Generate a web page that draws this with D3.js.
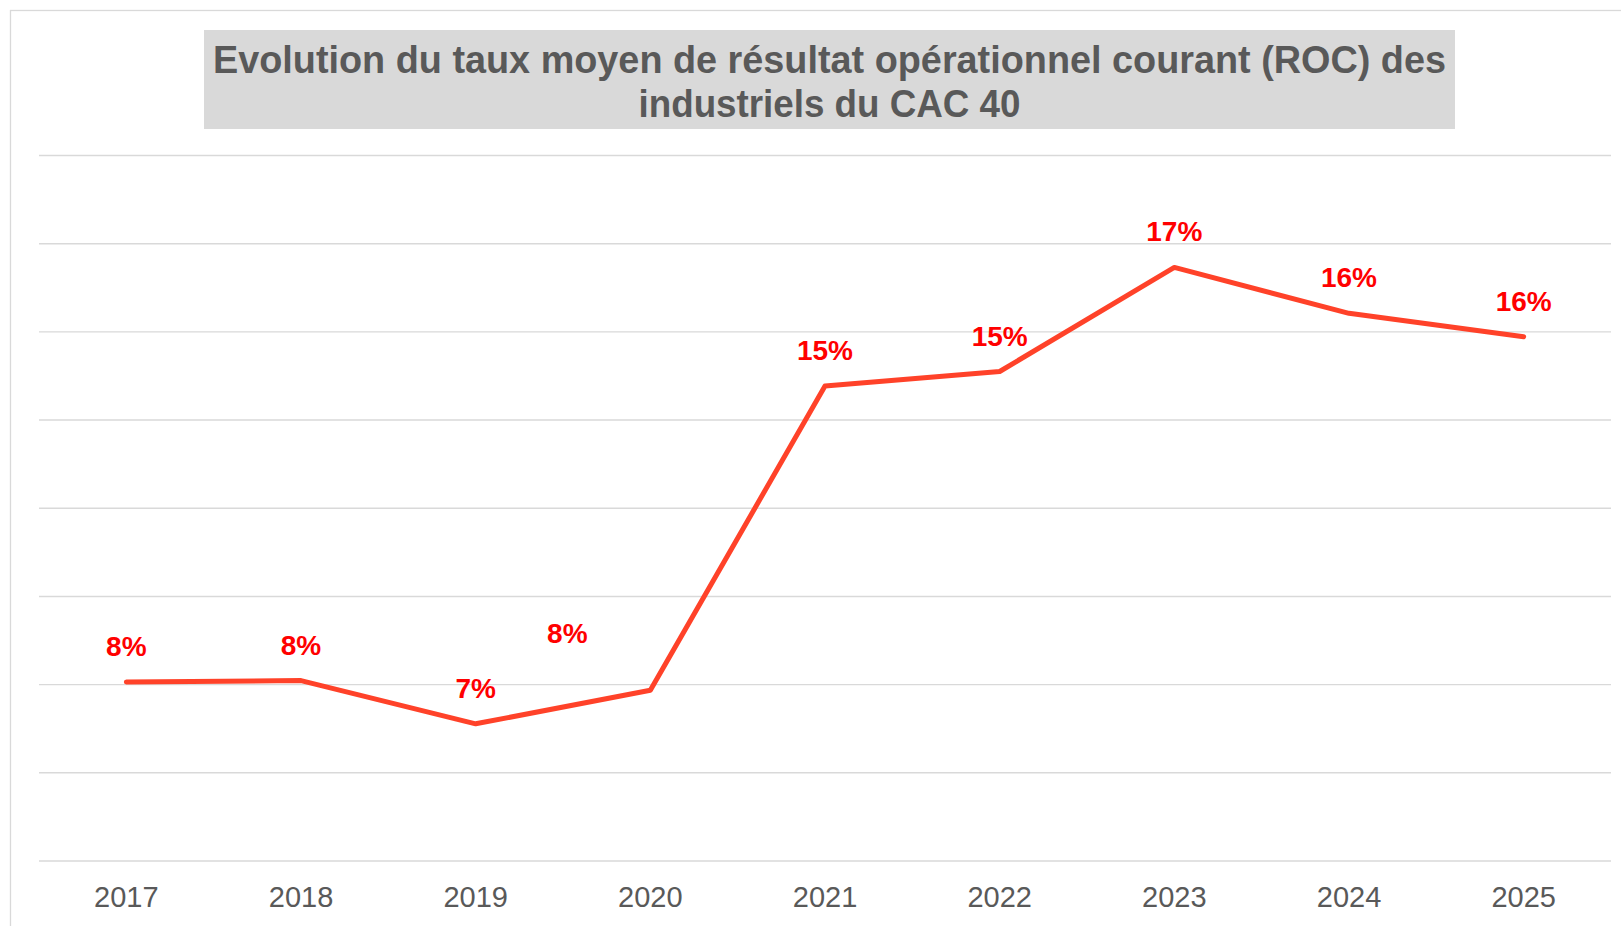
<!DOCTYPE html>
<html>
<head>
<meta charset="utf-8">
<script src="https://cdn.jsdelivr.net/npm/d3@7"></script>
<style>
  html, body { margin: 0; padding: 0; background: #fff; }
  svg { display: block; }
</style>
</head>
<body>
<div id="chart"></div>
<script>
var years = ["2017", "2018", "2019", "2020", "2021", "2022", "2023", "2024", "2025"]
var rocRate = [8.05, 8.08, 7.1, 7.86, 14.76, 15.09, 17.45, 16.41, 15.88]
var yTicks = [4, 6, 8, 10, 12, 14, 16, 18, 20]
var titleLines = [
  "Evolution du taux moyen de résultat opérationnel courant (ROC) des",
  "industriels du CAC 40"
]

var width = 1621, height = 926
var plot = { left: 39, right: 1611, top: 155, bottom: 860.5 }

var svg = d3.select("#chart").append("svg")
  .attr("width", width)
  .attr("height", height)

// chart frame, runs off the right and bottom of the picture
svg.append("rect")
  .attr("x", 10.5).attr("y", 10.5)
  .attr("width", 1700).attr("height", 1000)
  .attr("fill", "#fff")
  .attr("stroke", "#d9d9d9")
  .attr("stroke-width", 1.3)

var x = d3.scaleBand().domain(years).range([plot.left, plot.right]).padding(0)
var y = d3.scaleLinear().domain([4, 20]).range([plot.bottom, plot.top])

// horizontal gridlines, no tick labels
svg.append("g")
  .attr("transform", "translate(" + plot.left + ",0)")
  .call(d3.axisLeft(y).tickValues(yTicks).tickSize(-(plot.right - plot.left)).tickFormat(""))
  .call(function(g) {
    g.select(".domain").remove()
    g.selectAll(".tick line").attr("stroke", "#d9d9d9").attr("stroke-width", 1.4)
  })

// year labels
svg.append("g")
  .attr("transform", "translate(0," + plot.bottom + ")")
  .call(d3.axisBottom(x).tickSize(0).tickPadding(0))
  .call(function(g) {
    g.select(".domain").remove()
    g.selectAll(".tick text")
      .attr("y", 46.5).attr("dy", null)
      .attr("fill", "#595959")
      .style("font-family", "'Liberation Sans', Arial, sans-serif")
      .style("font-size", "29px")
  })

// title box
svg.append("rect")
  .attr("x", 204).attr("y", 30)
  .attr("width", 1251).attr("height", 99)
  .attr("fill", "#d9d9d9")

var titleWidths = [1233, 382]
svg.append("g").selectAll("text")
  .data(titleLines)
  .join("text")
  .attr("x", 829.5)
  .attr("y", function(d, i) { return 73 + i * 44 })
  .attr("text-anchor", "middle")
  .attr("textLength", function(d, i) { return titleWidths[i] })
  .attr("lengthAdjust", "spacingAndGlyphs")
  .attr("fill", "#595959")
  .style("font-family", "'Liberation Sans', Arial, sans-serif")
  .style("font-weight", "bold")
  .style("font-size", "38px")
  .text(function(d) { return d })

var cx = function(i) { return x(years[i]) + x.bandwidth() / 2 }

var line = d3.line()
  .x(function(d, i) { return cx(i) })
  .y(function(d) { return y(d) })

svg.append("path")
  .datum(rocRate)
  .attr("d", line)
  .attr("fill", "none")
  .attr("stroke", "#ff4229")
  .attr("stroke-width", 5)
  .attr("stroke-linecap", "round")
  .attr("stroke-linejoin", "round")

// the 2020 label was moved by hand in the original
var nudge = { "2020": [-83, -21] }

svg.append("g").selectAll("text")
  .data(rocRate)
  .join("text")
  .attr("x", function(d, i) { return cx(i) + (nudge[years[i]] ? nudge[years[i]][0] : 0) })
  .attr("y", function(d, i) { return y(d) - 26 + (nudge[years[i]] ? nudge[years[i]][1] : 0) })
  .attr("text-anchor", "middle")
  .attr("fill", "#ff0000")
  .style("font-family", "'Liberation Sans', Arial, sans-serif")
  .style("font-weight", "bold")
  .style("font-size", "28px")
  .text(function(d) { return Math.round(d) + "%" })
</script>
</body>
</html>
